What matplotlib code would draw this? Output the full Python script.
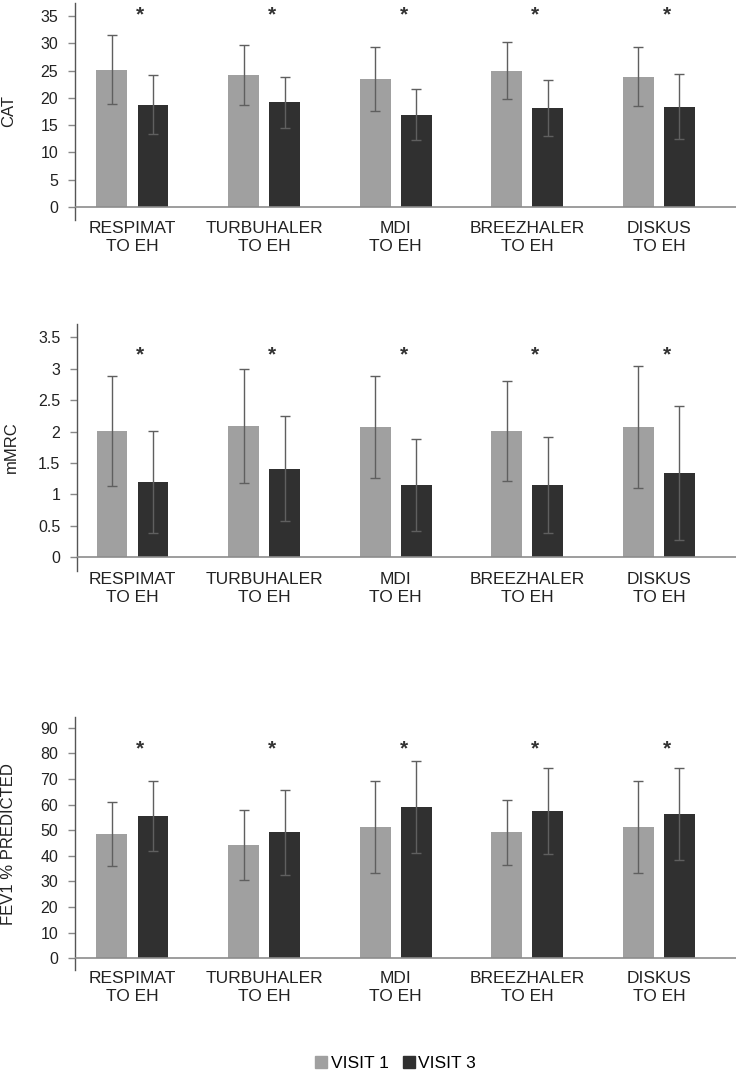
import matplotlib
matplotlib.use("Agg")
import matplotlib.pyplot as plt
from matplotlib.patches import Patch
import numpy as np

plt.rcParams['font.family'] = ['Liberation Sans', 'DejaVu Sans']

groups = ["RESPIMAT\nTO EH", "TURBUHALER\nTO EH", "MDI\nTO EH",
          "BREEZHALER\nTO EH", "DISKUS\nTO EH"]

# CAT
cat_v1 = [25.2, 24.2, 23.4, 25.0, 23.9]
cat_v1_sd = [6.35, 5.5, 5.85, 5.2, 5.45]
cat_v3 = [18.75, 19.2, 16.9, 18.2, 18.4]
cat_v3_sd = [5.45, 4.65, 4.65, 5.15, 5.95]

# mMRC
mmrc_v1 = [2.01, 2.09, 2.07, 2.01, 2.07]
mmrc_v1_sd = [0.87, 0.91, 0.815, 0.79, 0.975]
mmrc_v3 = [1.20, 1.41, 1.15, 1.15, 1.34]
mmrc_v3_sd = [0.815, 0.84, 0.735, 0.76, 1.07]

# FEV1 % predicted
fev_v1 = [48.5, 44.3, 51.2, 49.2, 51.2]
fev_v1_sd = [12.65, 13.65, 17.85, 12.6, 17.85]
fev_v3 = [55.5, 49.2, 59.1, 57.6, 56.2]
fev_v3_sd = [13.7, 16.5, 17.95, 16.85, 17.95]

c_v1 = '#a0a0a0'
c_v3 = '#303030'
err_c = '#5f5f5f'

fig = plt.figure(figsize=(7.38, 10.73), dpi=100)

panels = [
    # rect, v1, sd1, v3, sd3, ylabel, ylim, yticks, star y, xlim
    ([0.1016, 0.795, 0.8957, 0.2022], cat_v1, cat_v1_sd, cat_v3, cat_v3_sd,
     'CAT', (-2.38, 37.4), np.arange(0, 36, 5), 35.15, (-0.437, 4.586)),
    ([0.1043, 0.4681, 0.8930, 0.2299], mmrc_v1, mmrc_v1_sd, mmrc_v3, mmrc_v3_sd,
     'mMRC', (-0.213, 3.71), np.arange(0, 3.6, 0.5), 3.22, (-0.422, 4.586)),
    ([0.1016, 0.0960, 0.8957, 0.2355], fev_v1, fev_v1_sd, fev_v3, fev_v3_sd,
     'FEV1 % PREDICTED', (-4.57, 94.07), np.arange(0, 91, 10), 81.7, (-0.437, 4.586)),
]

x = np.arange(len(groups))
w = 0.235
off = 0.156

for rect, v1, s1, v3, s3, lab, ylim, yt, sy, xl in panels:
    ax = fig.add_axes(rect)
    ax.bar(x - off, v1, w, color=c_v1, zorder=2)
    ax.bar(x + off, v3, w, color=c_v3, zorder=2)
    ax.errorbar(x - off, v1, yerr=s1, fmt='none', ecolor=err_c, elinewidth=1,
                capsize=3.5, capthick=1, zorder=3)
    ax.errorbar(x + off, v3, yerr=s3, fmt='none', ecolor=err_c, elinewidth=1,
                capsize=3.5, capthick=1, zorder=3)
    ax.axhline(0, color='#8c8c8c', lw=1.2, zorder=4)
    for xi in x:
        ax.text(xi + 0.06, sy, '*', ha='center', va='center', fontsize=15,
                fontweight='bold', color='#333333')
    ax.set_xlim(*xl)
    ax.set_ylim(*ylim)
    ax.set_yticks(yt)
    ax.set_yticklabels([f'{t:g}' for t in yt])
    ax.set_xticks(x)
    ax.set_xticklabels(groups, fontsize=12.5, linespacing=1.2, color='#222222')
    ax.tick_params(axis='x', length=0, pad=1)
    ax.tick_params(axis='y', length=5, width=1, color='#888888', pad=7,
                   labelsize=11.5, labelcolor='#222222')
    for s in ['top', 'right', 'bottom']:
        ax.spines[s].set_visible(False)
    ax.spines['left'].set_color('#555555')
    ax.spines['left'].set_linewidth(1)
    ax.set_ylabel(lab, fontsize=12, va='center', color='#222222')
    ax.yaxis.set_label_coords(-0.1, 0.5)

handles = [Patch(color=c_v1, label='VISIT 1'), Patch(color=c_v3, label='VISIT 3')]
fig.legend(handles=handles, loc='center', bbox_to_anchor=(0.536, 0.0085), ncol=2,
           frameon=False, fontsize=12.5, handlelength=0.7, handleheight=0.7,
           handletextpad=0.2, columnspacing=0.8)

fig.savefig('out.png', dpi=100)
